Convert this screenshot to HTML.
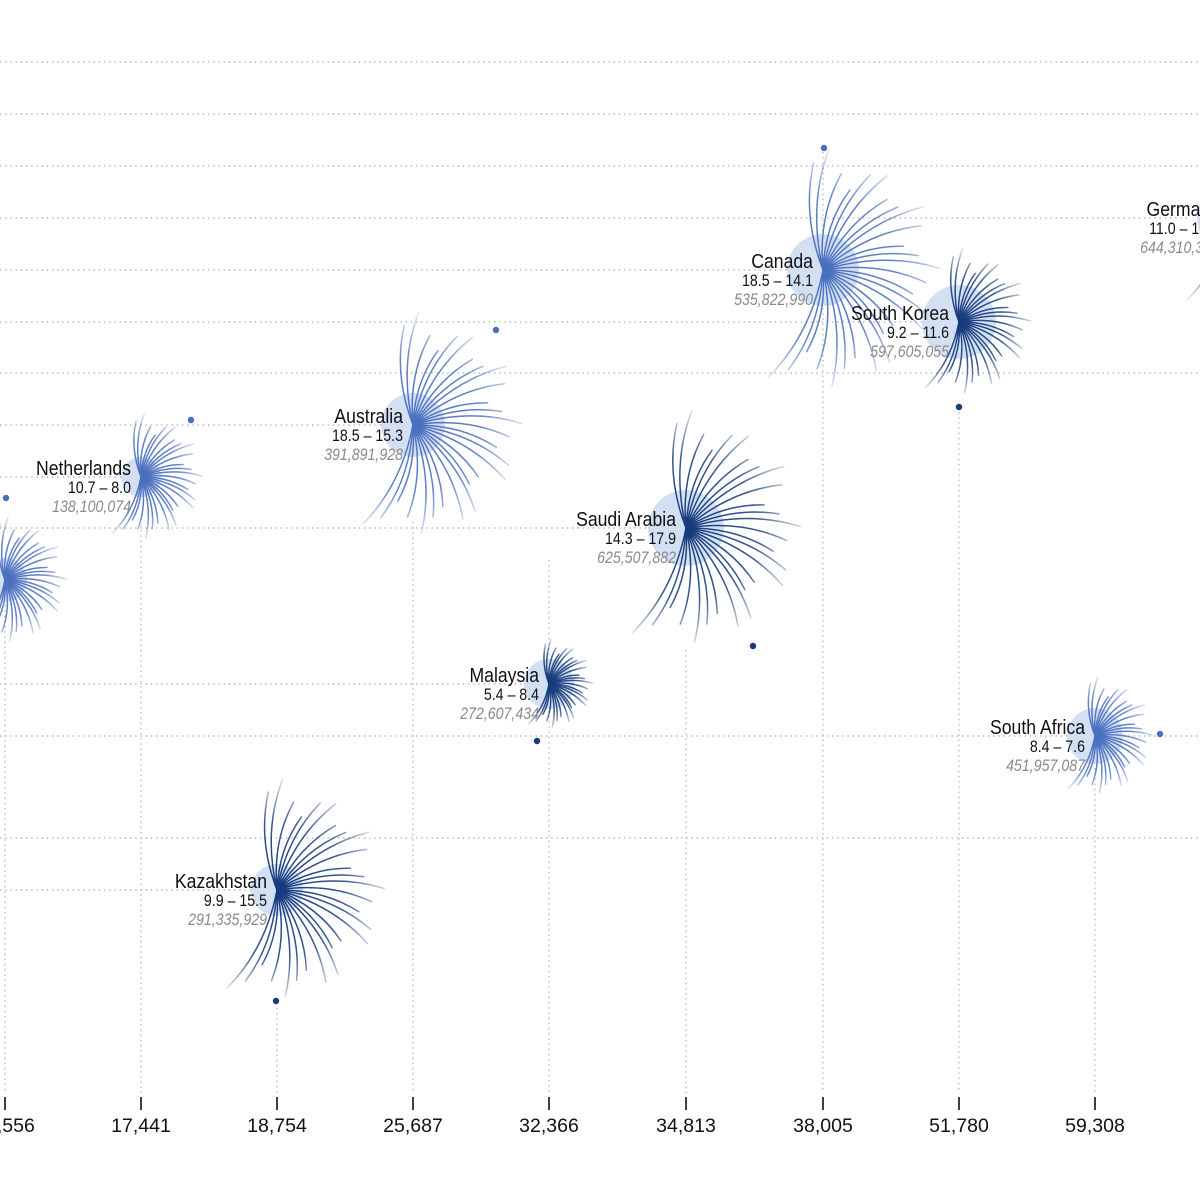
<!DOCTYPE html>
<html><head><meta charset="utf-8"><style>
html,body{margin:0;padding:0;background:#fff;}
svg{display:block;}
text{font-family:"Liberation Sans",sans-serif;}
</style></head><body>
<svg id="s" width="1200" height="1201" viewBox="0 0 1200 1201" xmlns="http://www.w3.org/2000/svg">
<defs id="d"></defs>
<g id="grid" stroke="#b8b8b8" stroke-width="1.4" stroke-dasharray="1.4 3.8" fill="none"></g>
<g id="circ"></g>
<g id="fans"></g>
<g id="lab"></g>
<g id="axis"></g>
</svg>
<script>
var NS="http://www.w3.org/2000/svg";
function el(t,a,p,txt){var e=document.createElementNS(NS,t);for(var k in a)e.setAttribute(k,a[k]);if(txt!=null)e.textContent=txt;(p||document.getElementById('s')).appendChild(e);return e;}
var grid=document.getElementById('grid');
var H=[[62,1200],[114,1200],[166,1200],[218,1190],[270,823],[322,959],[373,1200],[425,413],[477,141],[528,686],[581,5],[684,549],[736,1200],[838,1200],[890,277]];
H.forEach(function(h){el('line',{x1:0,y1:h[0],x2:h[1],y2:h[0]},grid);});
var V=[[5,600],[141,525],[277,1008],[413,522],[549,560],[686,650],[823,152],[959,412],[1095,768]];
V.forEach(function(v){el('line',{x1:v[0],y1:v[1],x2:v[0],y2:1093},grid);});
var axis=document.getElementById('axis');
var T=[[5,"15,556"],[141,"17,441"],[277,"18,754"],[413,"25,687"],[549,"32,366"],[686,"34,813"],[823,"38,005"],[959,"51,780"],[1095,"59,308"]];
T.forEach(function(t){
 el('line',{x1:t[0],y1:1097,x2:t[0],y2:1110,stroke:'#111','stroke-width':1.6},axis);
 el('text',{x:t[0],y:1132,'text-anchor':'middle','font-size':19.5,fill:'#111'},axis,t[1]);
});
var MB='#4a6fbf',DB='#163a7c';
var C=[
 [5,580,6,498,MB,62,22,"","",""],
 [141,477,191,420,MB,62,20,"Netherlands","10.7 – 8.0","138,100,074"],
 [277,890,276,1001,DB,108,26,"Kazakhstan","9.9 – 15.5","291,335,929"],
 [413,425,496,330,MB,110,32,"Australia","18.5 – 15.3","391,891,928"],
 [549,684,537,741,DB,44,25,"Malaysia","5.4 – 8.4","272,607,434"],
 [686,528,753,646,DB,115,38,"Saudi Arabia","14.3 – 17.9","625,507,882"],
 [823,270,824,148,MB,118,36,"Canada","18.5 – 14.1","535,822,990"],
 [959,322,959,407,DB,72,37,"South Korea","9.2 – 11.6","597,605,055"],
 [1095,736,1160,734,MB,58,28,"South Africa","8.4 – 7.6","451,957,087"],
 [1229,218,1237,150,MB,90,32,"Germany","11.0 – 12.3","644,310,345"]
];
var defs=document.getElementById('d'),circ=document.getElementById('circ'),fans=document.getElementById('fans'),lab=document.getElementById('lab');
C.forEach(function(c,i){
 var cx=c[0],cy=c[1],L=c[5];
 el('circle',{cx:cx,cy:cy,r:c[6],fill:'#d3dff3'},circ);
 var rg=el('radialGradient',{id:'g'+i,gradientUnits:'userSpaceOnUse',cx:cx,cy:cy,r:L*1.05},defs);
 el('stop',{offset:'0','stop-color':c[4],'stop-opacity':1},rg);
 el('stop',{offset:'0.6','stop-color':c[4],'stop-opacity':0.85},rg);
 el('stop',{offset:'1','stop-color':c[4],'stop-opacity':0.1},rg);
 var g=el('g',{stroke:'url(#g'+i+')',fill:'none','stroke-width':1.5,'stroke-linecap':'round'},fans);
 var N=28;
 for(var k=0;k<N;k++){
  var a=(-95+k*(212/(N-1)))*Math.PI/180;
  var l=L*(0.87+0.13*Math.sin(k*1.7)+0.04*Math.cos(k*0.9));
  var ex=cx+l*Math.cos(a),ey=cy+l*Math.sin(a);
  var b=a-0.28;
  var qx=cx+l*0.55*Math.cos(b),qy=cy+l*0.55*Math.sin(b);
  el('path',{d:'M'+cx+' '+cy+' Q'+qx.toFixed(1)+' '+qy.toFixed(1)+' '+ex.toFixed(1)+' '+ey.toFixed(1)},g);
 }
 el('circle',{cx:c[2],cy:c[3],r:3.2,fill:c[4]},fans);
 if(c[7]){
  var t=el('g',{transform:'translate('+(cx-10)+','+cy+') scale(0.86,1)'},lab);
  el('text',{x:0,y:-2,'text-anchor':'end','font-size':20.5,fill:'#111'},t,c[7]);
  el('text',{x:0,y:16,'text-anchor':'end','font-size':16.5,fill:'#111'},t,c[8]);
  el('text',{x:0,y:35,'text-anchor':'end','font-size':16.5,fill:'#8a8a8a','font-style':'italic'},t,c[9]);
 }
});
</script>
</body></html>
